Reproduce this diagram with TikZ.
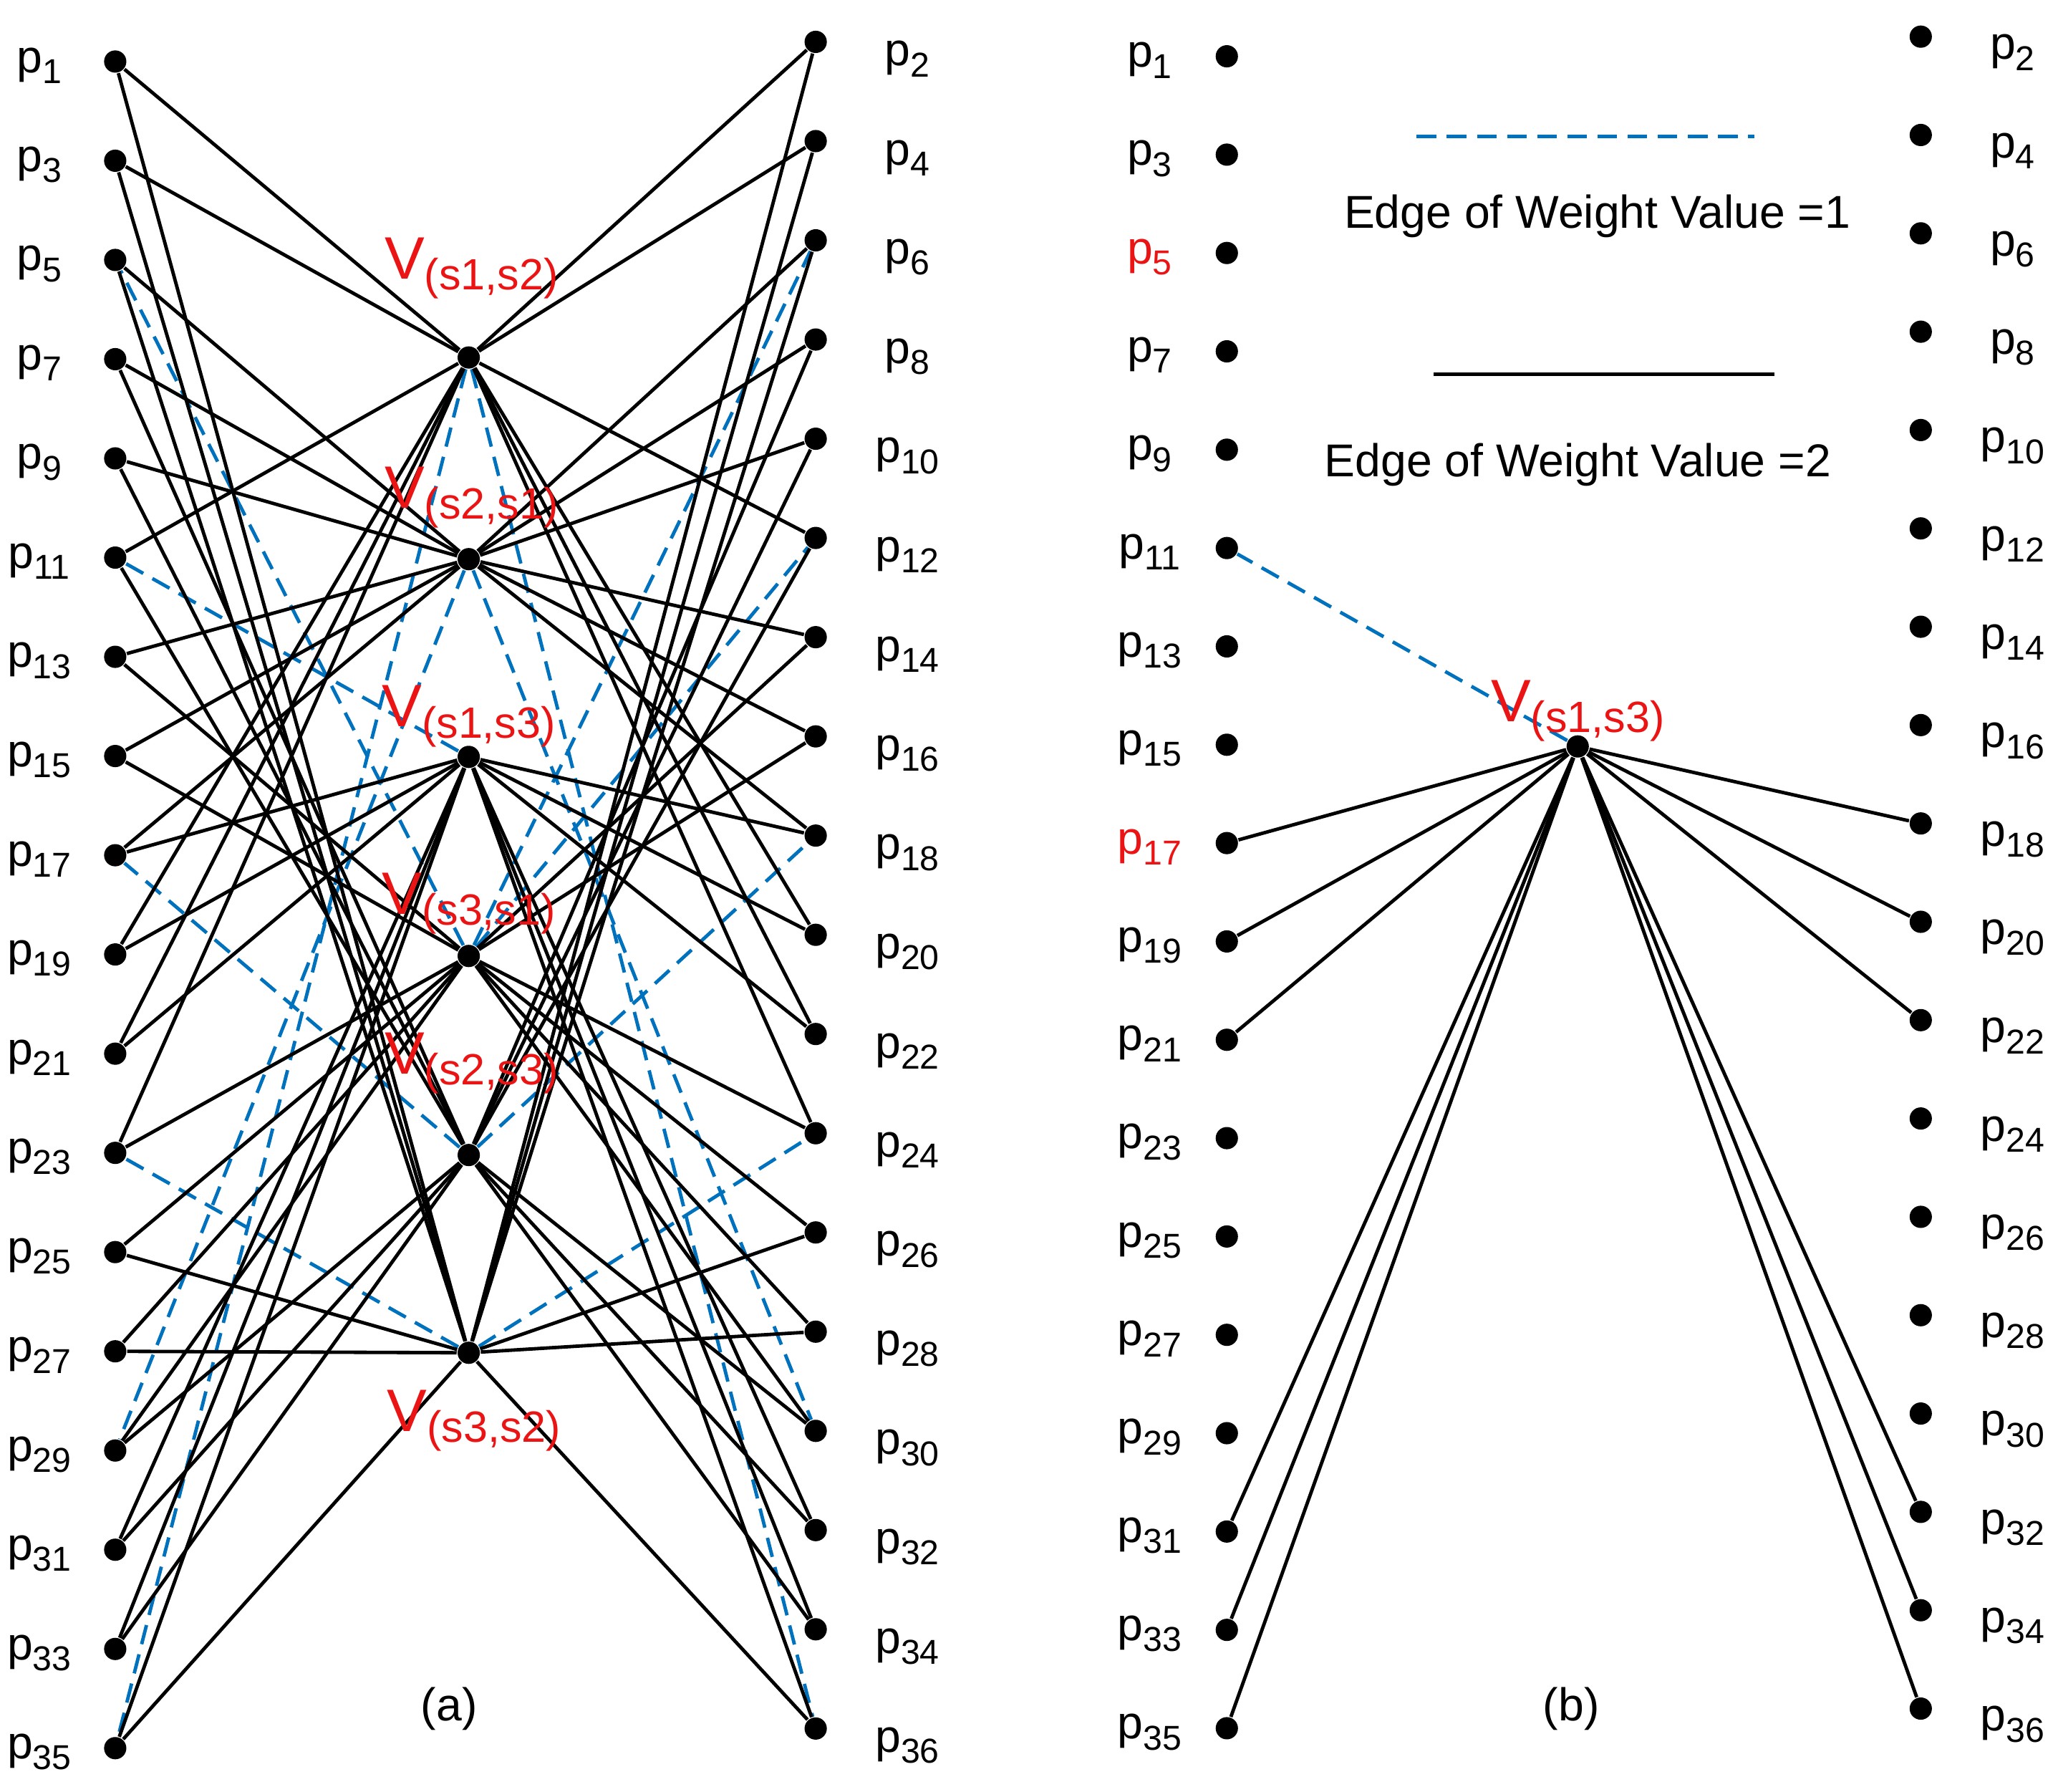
\documentclass[tikz,border=0pt]{standalone}
\usepackage{fontspec}
\setmainfont{Liberation Sans}
\definecolor{eblue}{RGB}{0,114,189}
\definecolor{vred}{RGB}{235,20,20}
\newcommand\pp[1]{p\raisebox{-0.45ex}{\fontsize{7.5}{9}\selectfont #1}}
\newcommand\vv[1]{{\fontsize{13}{15}\selectfont V}\raisebox{-0.45ex}{\fontsize{9.5}{11}\selectfont(#1)}}
\begin{document}
\begin{tikzpicture}[x=0.01cm,y=-0.01cm,
  dot/.style={circle,fill=black,inner sep=0pt,minimum size=0.17cm},
  lab/.style={font=\fontsize{10}{12}\selectfont},
  vlab/.style={text=vred},
  w2/.style={line width=0.75pt,black},
  w1/.style={line width=0.75pt,eblue,dash pattern=on 0.15cm off 0.08cm}]
\useasboundingbox (0,0) rectangle (1568,1368);
% ---------- panel (a) ----------
\foreach \k in {1,...,18}{
  \pgfmathtruncatemacro\odd{2*\k-1}
  \pgfmathtruncatemacro\even{2*\k}
  \node[dot] (L\odd) at (88,{47+(\k-1)*75.76}) {};
  \node[lab] at (30,{50+(\k-1)*75.76}) {\pp{\odd}};
  \node[dot] (R\even) at (623,{32+(\k-1)*75.76}) {};
  \node[lab] at (693,{45+(\k-1)*75.76}) {\pp{\even}};
}
\node[dot] (C12) at (358,273) {};
\node[dot] (C21) at (358,427) {};
\node[dot] (C13) at (358,578) {};
\node[dot] (C31) at (358,730) {};
\node[dot] (C23) at (358,882) {};
\node[dot] (C32) at (358,1033) {};
% dashed edges (weight 1)
\foreach \c/\n in {C12/L35,C12/R36,C21/L29,C21/R30,C13/L11,C31/L5,C31/R6,C31/R12,C23/L17,C23/R18,C32/L23,C32/R24}
  \draw[w1] (\c) -- (\n);
% solid edges (weight 2)
\foreach \c/\lst in {C12/{1,3,11,19,21,23},C21/{5,7,9,13,15,17},C13/{17,19,21,31,33,35},C31/{13,15,23,25,27,29},C23/{7,9,11,29,31,33},C32/{1,3,5,25,27,35}}{
  \foreach \n in \lst {
    \pgfmathtruncatemacro\m{\n+1}
    \draw[w2] (\c) -- (L\n);
    \draw[w2] (\c) -- (R\m);
  }
}
\node[vlab] at (360,205) {\vv{s1,s2}};
\node[vlab] at (360,380) {\vv{s2,s1}};
\node[vlab] at (358,547) {\vv{s1,s3}};
\node[vlab] at (358,690) {\vv{s3,s1}};
\node[vlab] at (360,812) {\vv{s2,s3}};
\node[vlab] at (362,1085) {\vv{s3,s2}};
\node[lab] at (343,1305) {(a)};
% ---------- panel (b) ----------
\foreach \k in {1,...,18}{
  \pgfmathtruncatemacro\odd{2*\k-1}
  \pgfmathtruncatemacro\even{2*\k}
  \node[dot] (BL\odd) at (937,{43+(\k-1)*75.1}) {};
  \node[dot] (BR\even) at (1467,{28+(\k-1)*75.1}) {};
  \node[lab] at (1537,{40+(\k-1)*75.1}) {\pp{\even}};
}
\foreach \k in {1,...,18}{
  \pgfmathtruncatemacro\odd{2*\k-1}
  \ifnum\odd=5 \def\tc{vred}\else\ifnum\odd=17 \def\tc{vred}\else\def\tc{black}\fi\fi
  \node[lab,text=\tc] at (878,{46+(\k-1)*75.1}) {\pp{\odd}};
}
\node[dot] (BC) at (1205,570) {};
\draw[w1] (BC) -- (BL11);
\foreach \n in {17,19,21,31,33,35}{
  \pgfmathtruncatemacro\m{\n+1}
  \draw[w2] (BC) -- (BL\n);
  \draw[w2] (BC) -- (BR\m);
}
\node[vlab] at (1205,543) {\vv{s1,s3}};
\coordinate (la) at (1082,104); \coordinate (lb) at (1340,104);
\draw[w1] (la) -- (lb);
\node[lab] at (1220,165) {Edge of Weight Value =1};
\coordinate (lc) at (1095,286); \coordinate (ld) at (1355,286);
\draw[w2] (lc) -- (ld);
\node[lab] at (1205,355) {Edge of Weight Value =2};
\node[lab] at (1200,1305) {(b)};
\end{tikzpicture}
\end{document}
